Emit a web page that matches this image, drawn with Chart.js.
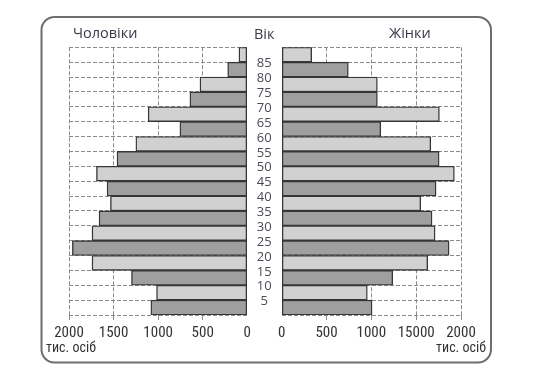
<!DOCTYPE html>
<html>
<head>
<meta charset="utf-8">
<script src="https://cdn.jsdelivr.net/npm/chart.js@4.4.1/dist/chart.umd.min.js"></script>
<style>
  body { margin: 0; background: #fff; }
  #wrap { position: relative; width: 550px; height: 376px; }
  #wrap canvas { position: absolute; left: 0; top: 0; }
</style>
</head>
<body>
<div id="wrap">
  <canvas id="men-chart" width="550" height="376"></canvas>
  <canvas id="women-chart" width="550" height="376"></canvas>
</div>
<script>
// age groups (lower bound of each 5-year group), from bottom to top
const ageGroups = [0, 5, 10, 15, 20, 25, 30, 35, 40, 45, 50, 55, 60, 65, 70, 75, 80, 85];
const ageLabels = [5, 10, 15, 20, 25, 30, 35, 40, 45, 50, 55, 60, 65, 70, 75, 80, 85];

// thousands of people, same order as ageGroups
const men   = [1082, 1018, 1299, 1742, 1962, 1742, 1663, 1535, 1573, 1692, 1461, 1250, 756, 1112, 644, 531, 220, 94];
const women = [1008, 955, 1239, 1629, 1867, 1711, 1677, 1551, 1722, 1926, 1756, 1663, 1105, 1759, 1067, 1067, 743, 335];

// x axis ticks (the printed "15000" is kept as it is in the source)
const tickValues = [0, 500, 1000, 1500, 2000];
const menTickLabels = ['0', '500', '1000', '1500', '2000'];
const womenTickLabels = ['0', '500', '1000', '15000', '2000'];

const titleMen = 'Чоловіки';
const titleAge = 'Вік';
const titleWomen = 'Жінки';
const unitText = 'тис. осіб';

const DARK = '#9f9f9f';
const LIGHT = '#d1d1d1';
const GRID = '#8a8a8a';
const narrow = "'Liberation Sans Narrow', 'Roboto Condensed', 'DejaVu Sans Condensed', sans-serif";

const barColors = ageGroups.map((a, i) => i % 2 === 0 ? DARK : LIGHT);

function toPoints(values) {
	return values.map((v, i) => ({ x: v, y: ageGroups[i] + 2.5 }));
}

// frame and texts round the two halves
const decor = {
	id: 'decor',
	afterDraw(chart) {
		const ctx = chart.ctx;
		ctx.save();
		ctx.strokeStyle = '#6e6e6e';
		ctx.lineWidth = 2;
		ctx.beginPath();
		ctx.roundRect(41.5, 17, 449.5, 345.5, 13);
		ctx.stroke();

		ctx.fillStyle = '#3b3848';
		ctx.font = "500 14.5px 'Open Sans', sans-serif";
		ctx.textBaseline = 'middle';
		ctx.textAlign = 'left';
		ctx.fillText(titleMen, 73, 34);
		ctx.fillText(titleAge, 254, 34.5);
		ctx.fillText(titleWomen, 389, 33.5);

		ctx.fillStyle = '#333';
		ctx.font = '14px ' + narrow;
		ctx.fillText(unitText, 46, 348);
		ctx.textAlign = 'right';
		ctx.fillText(unitText, 486, 348);
		ctx.restore();
	}
};

function xAxis(labels) {
	return {
		type: 'linear',
		min: 0,
		max: 2000,
		afterFit: s => { s.height = 25; },
		grid: {
			color: c => (c.tick && c.tick.value === 0) ? 'rgba(0,0,0,0)' : GRID,
			lineWidth: 1,
			drawTicks: true,
			tickLength: 5
		},
		border: { display: false, dash: [4, 2] },
		ticks: {
			stepSize: 500,
			padding: 4,
			color: '#333',
			font: { family: narrow, size: 15 },
			maxRotation: 0,
			callback: v => labels[tickValues.indexOf(v)]
		}
	};
}

function yAxis(showLabels) {
	return {
		type: 'linear',
		min: 0,
		max: 90,
		offset: false,
		afterFit: s => { s.width = showLabels ? 40 : 0; },
		grid: { color: GRID, lineWidth: 1, drawTicks: false, offset: false },
		border: { display: false, dash: [4, 2] },
		ticks: {
			display: showLabels,
			autoSkip: false,
			stepSize: 5,
			padding: 10,
			crossAlign: 'center',
			labelOffset: 1.5,
			color: '#4e4955',
			font: { family: "'Open Sans', sans-serif", size: 13, weight: '500' },
			callback: v => ageLabels.includes(v) ? String(v) : ''
		}
	};
}

function dataset(label, values) {
	return {
		label: label,
		data: toPoints(values),
		backgroundColor: barColors,
		borderColor: '#363636',
		borderWidth: 1.4,
		borderSkipped: false,
		categoryPercentage: 1,
		barPercentage: 1
	};
}

const common = {
	indexAxis: 'y',
	responsive: false,
	animation: false,
	plugins: { legend: { display: false }, tooltip: { enabled: false } }
};

// men, left half, values grow to the left
const menCtx = document.getElementById('men-chart').getContext('2d');
const menChart = new Chart(menCtx, {
	type: 'bar',
	data: { datasets: [dataset('Чоловіки', men)] },
	options: Object.assign({}, common, {
		layout: { padding: { left: 69, right: 550 - 247.3, top: 47.3, bottom: 36 } },
		scales: {
			x: Object.assign(xAxis(menTickLabels), { reverse: true }),
			y: yAxis(false)
		}
	}),
	plugins: [decor]
});

// women, right half, age labels sit in the gap between halves
const womenCtx = document.getElementById('women-chart').getContext('2d');
const womenChart = new Chart(womenCtx, {
	type: 'bar',
	data: { datasets: [dataset('Жінки', women)] },
	options: Object.assign({}, common, {
		layout: { padding: { left: 281.7 - 40, right: 550 - 461, top: 47.3, bottom: 36 } },
		scales: {
			x: xAxis(womenTickLabels),
			y: yAxis(true)
		}
	})
});
</script>
</body>
</html>
